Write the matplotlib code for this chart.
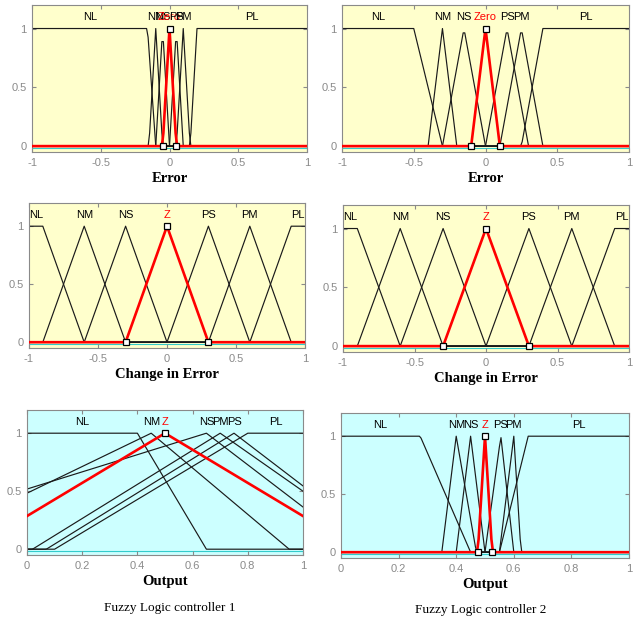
import numpy as np
import matplotlib
matplotlib.use("Agg")
import matplotlib.pyplot as plt
from matplotlib.ticker import FuncFormatter

# membership function sets: names, parameters (3 = triangle, 4 = trapezoid)
err1_names = ["NL", "NM", "NS", "Zero", "PS", "PM", "PL"]
err1_params = [[-1, -1, -0.16, -0.1], [-0.15, -0.1, -0.05], [-0.1, -0.05, 0.0],
               [-0.05, 0.0, 0.05], [0.0, 0.05, 0.1], [0.05, 0.1, 0.15],
               [0.15, 0.2, 1, 1]]

err2_names = ["NL", "NM", "NS", "Zero", "PS", "PM", "PL"]
err2_params = [[-1, -1, -0.5, -0.3], [-0.4, -0.3, -0.2], [-0.3, -0.15, 0.0],
               [-0.1, 0.0, 0.1], [0.0, 0.15, 0.3], [0.1, 0.25, 0.4],
               [0.25, 0.4, 1, 1]]

dE_names = ["NL", "NM", "NS", "Z", "PS", "PM", "PL"]
dE_params = [[-1, -1, -0.9, -0.6], [-0.9, -0.6, -0.3], [-0.6, -0.3, 0.0],
             [-0.3, 0.0, 0.3], [0.0, 0.3, 0.6], [0.3, 0.6, 0.9],
             [0.6, 0.9, 1, 1]]

out1_names = ["NL", "NM", "Z", "NS", "PM", "PS", "PL"]
out1_params = [[0, 0, 0.4, 0.65], [-0.42, 0.45, 0.95], [-0.2, 0.5, 1.2],
               [-0.7, 0.65, 1.2], [0.02, 0.7, 1.3], [0.07, 0.75, 1.3],
               [0.1, 0.8, 1, 1]]

out2_names = ["NL", "NM", "NS", "Z", "PS", "PM", "PL"]
out2_params = [[0, 0, 0.275, 0.45], [0.35, 0.4, 0.47], [0.4, 0.45, 0.5],
               [0.475, 0.5, 0.525], [0.5, 0.555, 0.6], [0.55, 0.6, 0.625],
               [0.55, 0.65, 1, 1]]

YELLOW = "#ffffcc"
CYAN = "#ccffff"


def mf(x, p):
    if len(p) == 3:
        p = [p[0], p[1], p[1], p[2]]
    a, b, c, d = p
    up = np.where(x >= b, 1.0, (x - a) / (b - a) if b > a else 1.0)
    down = np.where(x <= c, 1.0, (d - x) / (d - c) if d > c else 1.0)
    return np.clip(np.minimum(up, down), 0, 1)


def draw_panel(ax, names, params, xlim, xticks, xlabel, bg, sel=3):
    x = np.linspace(xlim[0], xlim[1], 181)
    ax.set_facecolor(bg)
    ax.plot(xlim, [-0.012, -0.012], color="#33cccc", lw=0.8, zorder=1)
    for i, (name, p) in enumerate(zip(names, params)):
        if i == sel:
            continue
        ax.plot(x, mf(x, p), color="#1a1a1a", lw=0.85, zorder=2)
    p = params[sel]
    ax.plot(x, mf(x, p), color="red", lw=1.9, zorder=3)
    pts = [v for v in p if xlim[0] <= v <= xlim[1]]
    ax.plot(pts, mf(np.array(pts, float), p), ls="none", marker="s",
            ms=4, mfc="white", mec="black", mew=0.9, zorder=4)
    for i, (name, p) in enumerate(zip(names, params)):
        if len(p) == 3:
            lx = p[1]
        else:
            lx = (max(p[1], xlim[0]) + min(p[2], xlim[1])) / 2
        ax.text(lx, 1.1, name, ha="center", va="center", fontsize=8,
                family="Liberation Sans",
                color="red" if i == sel else "black")
    ax.set_xlim(xlim)
    ax.set_ylim(-0.05, 1.2)
    ax.set_xticks(xticks)
    ax.set_yticks([0, 0.5, 1])
    fmt = FuncFormatter(lambda v, pos: "%g" % v)
    ax.xaxis.set_major_formatter(fmt)
    ax.yaxis.set_major_formatter(fmt)
    ax.tick_params(direction="in", length=3, width=0.8, colors="#8a8a8a",
                   labelsize=8, top=True, right=True, pad=4)
    for lab in ax.get_xticklabels() + ax.get_yticklabels():
        lab.set_family("Liberation Sans")
    for s in ax.spines.values():
        s.set_color("#8a8a8a")
        s.set_linewidth(0.8)
    ax.set_xlabel(xlabel, family="Liberation Serif", fontweight="bold",
                  fontsize=10.5, labelpad=3)


fig = plt.figure(figsize=(6.44, 6.22), dpi=100)
W, H = 644, 622


def add_axes(x0, y0, x1, y1):
    return fig.add_axes([x0 / W, 1 - y1 / H, (x1 - x0) / W, (y1 - y0) / H])


err_ticks = [-1, -0.5, 0, 0.5, 1]
out_ticks = [0, 0.2, 0.4, 0.6, 0.8, 1]

draw_panel(add_axes(32, 5, 307, 152), err1_names, err1_params, (-1, 1),
           err_ticks, "Error", YELLOW)
draw_panel(add_axes(342, 5, 629, 152), err2_names, err2_params, (-1, 1),
           err_ticks, "Error", YELLOW)
draw_panel(add_axes(29, 203, 305, 348), dE_names, dE_params, (-1, 1),
           err_ticks, "Change in Error", YELLOW)
draw_panel(add_axes(343, 205, 629, 352), dE_names, dE_params, (-1, 1),
           err_ticks, "Change in Error", YELLOW)
draw_panel(add_axes(27, 410, 303, 555), out1_names, out1_params, (0, 1),
           out_ticks, "Output", CYAN, sel=2)
draw_panel(add_axes(341, 413, 629, 558), out2_names, out2_params, (0, 1),
           out_ticks, "Output", CYAN)

fig.text(170 / W, 1 - 608 / H, "Fuzzy Logic controller 1", ha="center",
         va="center", family="Liberation Serif", fontsize=9.5)
fig.text(481 / W, 1 - 610 / H, "Fuzzy Logic controller 2", ha="center",
         va="center", family="Liberation Serif", fontsize=9.5)

fig.savefig("out.png", dpi=100)
